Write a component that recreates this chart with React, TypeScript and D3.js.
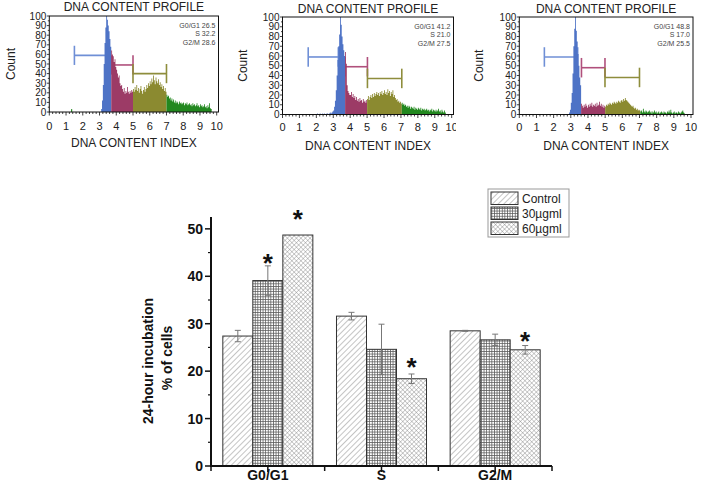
import React from 'react';
import * as d3 from 'd3';

// ---------------- Bar chart data ----------------
const phases = ['G0/G1', 'S', 'G2/M'];
const treatments = ['Control', '30µgml', '60µgml'];
const controlPct = [27.4, 31.6, 28.5];
const controlErr = [1.2, 0.8, 0.1];
const dose30Pct = [39.1, 24.6, 26.6];
const dose30Err = [3.1, 5.3, 1.2];
const dose60Pct = [48.7, 18.4, 24.5];
const dose60Err = [0, 1.0, 0.9];
// significance markers: [treatment index, phase index, level (% of cells)]
const starMarks: [number, number, number][] = [
  [1, 0, 44.1],
  [2, 0, 53.4],
  [2, 1, 22.2],
  [2, 2, 27.6],
];
const barTicks = [0, 10, 20, 30, 40, 50];

// ---------------- Histogram data (bin width 0.05) ----------------
const BIN = 0.05;
const histXTicks = [0, 1, 2, 3, 4, 5, 6, 7, 8, 9, 10];
const histYTicks = [0, 10, 20, 30, 40, 50, 60, 70, 80, 90, 100];

const profile1Start = 3.1;
const profile1Counts = [
  3, 12, 28, 50, 72, 88, 100, 96, 90, 84, 76, 68,
  64, 60, 58, 52, 55, 47, 44, 40, 36, 38, 30, 27, 28, 24, 21, 25, 19, 22, 20, 26, 21, 19, 22, 20, 23, 21,
  24, 21, 26, 23, 28, 22, 25, 20, 24, 27, 22, 19, 23, 26, 21, 24, 28, 25, 30, 27, 32, 29, 35, 31, 38, 33, 29, 36, 32, 30, 34, 28, 31, 26, 29, 24, 27, 22, 25, 21,
  18, 16, 17, 14, 15, 12, 14, 11, 13, 10, 12, 9, 11, 10, 8, 11, 9, 10, 8, 9, 10, 7, 9, 8, 10, 7, 8, 9, 7, 8, 6, 9, 7, 8, 6, 7, 9, 6, 7, 5, 8, 6, 7, 5, 6, 8, 5, 6, 4, 7, 5, 9, 4, 3,
];
const profile1Low: [number, number][] = [[1.3, 3]];
const profile1Bounds = [3.7, 5.0, 7.0];
const profile1Stats = ['G0/G1 26.5', 'S 32.2', 'G2/M 28.6'];
// gates: [from, to, level]
const profile1Gates: [number, number, number][] = [[1.5, 3.4, 59], [3.7, 5.0, 49], [5.0, 7.0, 40]];

const profile2Start = 2.0;
const profile2Counts = [
  0, 1, 0, 0, 1, 0, 0, 1, 0, 1, 0, 0, 1, 1, 0, 1, 2, 1, 2, 3,
  4, 8, 14, 25, 40, 56, 70, 82, 100, 92, 80, 72, 66, 60,
  64, 52, 30, 24, 22, 20, 20, 23, 18, 21, 17, 19, 15, 18, 14, 16, 13, 17, 14, 15, 12, 16, 13, 14, 12, 15,
  16, 19, 15, 18, 20, 17, 21, 18, 22, 19, 21, 23, 20, 22, 19, 23, 21, 24, 20, 22, 25, 21, 23, 20, 26, 22, 24, 19, 23, 21, 25, 18, 20, 17, 15, 16, 13, 14, 12, 13, 11,
  12, 10, 11, 9, 10, 8, 9, 7, 9, 8, 6, 8, 7, 6, 8, 5, 7, 6, 5, 7, 6, 5, 7, 4, 6, 5, 6, 4, 5, 6, 4, 5, 3, 5, 4, 6, 3, 5, 4, 3, 5, 3, 4, 6, 3, 4, 2, 5, 3, 2, 4, 2,
];
const profile2Low: [number, number][] = [];
const profile2Bounds = [3.7, 5.0, 7.05];
const profile2Stats = ['G0/G1 41.2', 'S 21.0', 'G2/M 27.5'];
const profile2Gates: [number, number, number][] = [[1.52, 3.3, 59], [3.69, 5.02, 49], [5.02, 7.05, 37]];

const profile3Start = 2.9;
const profile3Counts = [
  2, 5, 12, 22, 42, 70, 88, 100, 86, 75, 62, 50, 38, 30,
  11, 9, 7, 10, 8, 11, 9, 7, 10, 8, 11, 9, 12, 8, 10, 9, 11, 8, 12, 9, 10, 13, 9, 11, 8, 10, 7, 9,
  8, 10, 9, 11, 10, 12, 11, 10, 12, 11, 13, 12, 11, 13, 12, 14, 13, 12, 14, 15, 13, 16, 14, 17, 15, 14, 13, 12, 11, 10, 9, 8, 9, 7, 6, 7, 5, 6, 4, 5, 4,
  3, 4, 2, 6, 3, 2, 4, 3, 2, 3, 4, 2, 3, 1, 3, 2, 4, 2, 3, 1, 2, 3, 1, 2, 3, 2, 1, 3, 2, 2, 1, 3, 2, 4, 2, 5, 2, 1, 2, 3, 1, 2, 2, 1, 3, 2, 1, 2, 3, 4, 2, 1,
];
const profile3Low: [number, number][] = [];
const profile3Bounds = [3.6, 5.0, 7.05];
const profile3Stats = ['G0/G1 48.8', 'S 17.0', 'G2/M 25.5'];
const profile3Gates: [number, number, number][] = [[1.46, 3.4, 59], [3.62, 4.99, 48], [4.99, 7.0, 38]];

// ---------------- Styles ----------------
const FILL_COLORS = ['#4e73c6', '#9c3b66', '#8b8a30', '#22881f'];
const GATE_COLORS = ['#6f8fd6', '#b0507c', '#8e8d3c'];
const FONT = 'Arial, "Liberation Sans", sans-serif';

type PanelLayout = {
  left: number; right: number; x10: number; bottom: number; top: number;
  titleY: number; tickY: number; labelY: number; countX: number; clip?: number;
};

const panelLayouts: PanelLayout[] = [
  { left: 49.3, x10: 216.7, right: 218.5, bottom: 112, top: 16, titleY: 11, tickY: 129.5, labelY: 146.5, countX: 14.5 },
  { left: 282.5, x10: 451.7, right: 453.5, bottom: 114.5, top: 17, titleY: 12.5, tickY: 131, labelY: 150, countX: 247, clip: 456 },
  { left: 519.3, x10: 691, right: 693, bottom: 114.5, top: 17, titleY: 13, tickY: 131, labelY: 150, countX: 483 },
];

type Seg = { idx: number; pts: { x: number; c: number }[] };

function segmentsOf(start: number, counts: number[], bounds: number[]): Seg[] {
  const segs: Seg[] = [];
  counts.forEach((c, i) => {
    const x = start + i * BIN;
    const k = bounds.findIndex((b) => x < b - 1e-6);
    const idx = k === -1 ? bounds.length : k;
    let seg = segs[segs.length - 1];
    if (!seg || seg.idx !== idx) {
      seg = { idx, pts: [] };
      segs.push(seg);
    }
    seg.pts.push({ x, c });
  });
  segs.forEach((s) => {
    const last = s.pts[s.pts.length - 1];
    s.pts.push({ x: last.x + BIN, c: last.c });
  });
  return segs;
}

function HistPanel(props: {
  id: number; L: PanelLayout; start: number; counts: number[]; low: [number, number][];
  bounds: number[]; stats: string[]; gates: [number, number, number][];
}) {
  const { id, L, start, counts, low, bounds, stats, gates } = props;
  const x = d3.scaleLinear().domain([0, 10]).range([L.left, L.x10]);
  const y = d3.scaleLinear().domain([0, 100]).range([L.bottom, L.top]);
  const segs = segmentsOf(start, counts, bounds);
  const area = d3
    .area<{ x: number; c: number }>()
    .x((d) => x(d.x))
    .y0(y(0))
    .y1((d) => y(d.c))
    .curve(d3.curveStepAfter);
  const minorX = d3.range(0, 51).map((i) => i * 0.2);
  const minorY = d3.range(0, 21).map((i) => i * 5);
  const clipId = `clip${id}`;
  return (
    <g clipPath={L.clip ? `url(#${clipId})` : undefined}>
      {L.clip && (
        <defs>
          <clipPath id={clipId}>
            <rect x={0} y={0} width={L.clip} height={170} />
          </clipPath>
        </defs>
      )}
      <text x={(L.left + L.right) / 2} y={L.titleY} textAnchor="middle" fontFamily={FONT} fontSize={12} fill="#222">
        DNA CONTENT PROFILE
      </text>
      <text
        transform={`translate(${L.countX},${(L.top + L.bottom) / 2}) rotate(-90)`}
        textAnchor="middle"
        fontFamily={FONT}
        fontSize={12}
        fill="#222"
      >
        Count
      </text>
      {/* gates (behind histogram) */}
      {gates.map((g, i) => (
        <g key={i} stroke={GATE_COLORS[i]} strokeWidth={1.6} fill="none">
          <line x1={x(g[0])} x2={x(g[1])} y1={y(g[2])} y2={y(g[2])} />
          <line x1={x(g[0])} x2={x(g[0])} y1={y(g[2] + 10)} y2={y(g[2] - 10)} />
          <line x1={x(g[1])} x2={x(g[1])} y1={y(g[2] + 10)} y2={y(g[2] - 10)} />
        </g>
      ))}
      {segs.map((s, i) => (
        <path key={i} d={area(s.pts) || ''} fill={FILL_COLORS[s.idx]} stroke="none" />
      ))}
      {low.map((b, i) => (
        <rect key={i} x={x(b[0])} width={x(BIN) - x(0) + 0.3} y={y(b[1])} height={y(0) - y(b[1])} fill={FILL_COLORS[3]} />
      ))}
      {/* frame */}
      <rect x={L.left} y={L.top} width={L.right - L.left} height={L.bottom - L.top} fill="none" stroke="#111" strokeWidth={1} />
      {/* x ticks */}
      {minorX.map((v, i) => (
        <line key={i} x1={x(v)} x2={x(v)} y1={L.bottom} y2={L.bottom + (Math.abs(v - Math.round(v)) < 1e-6 ? 3.5 : 2)} stroke="#111" strokeWidth={0.8} />
      ))}
      {histXTicks.map((v) => (
        <text key={v} x={x(v)} y={L.tickY} textAnchor="middle" fontFamily={FONT} fontSize={11} fill="#222">
          {v}
        </text>
      ))}
      {/* y ticks */}
      {minorY.map((v, i) => (
        <line key={i} x1={L.left} x2={L.left - (v % 10 === 0 ? 2.5 : 1.5)} y1={y(v)} y2={y(v)} stroke="#111" strokeWidth={0.8} />
      ))}
      {histYTicks.map((v) => (
        <text key={v} x={L.left - 3} y={y(v) + 3.6} textAnchor="end" fontFamily={FONT} fontSize={10} fill="#222">
          {v}
        </text>
      ))}
      <text x={(L.left + L.right) / 2} y={L.labelY} textAnchor="middle" fontFamily={FONT} fontSize={12} fill="#222">
        DNA CONTENT INDEX
      </text>
      {stats.map((s, i) => (
        <text key={i} x={L.right - 3} y={L.top + 12 + i * 8.3} textAnchor="end" fontFamily={FONT} fontSize={7} fill="#444">
          {s}
        </text>
      ))}
    </g>
  );
}

function BarChart() {
  const yBar = d3.scaleLinear().domain([0, 52.5]).range([466, 217]);
  const xBand = d3.scaleBand<string>().domain(phases).range([211, 552]).paddingInner(0).paddingOuter(0);
  const xSub = d3.scaleBand<string>().domain(treatments).range([0, xBand.bandwidth()]).paddingInner(0).paddingOuter(0.394);
  const values = [controlPct, dose30Pct, dose60Pct];
  const errs = [controlErr, dose30Err, dose60Err];
  const fills = ['url(#patControl)', 'url(#pat30)', 'url(#pat60)'];
  const minor = d3.range(5, 51, 10);
  const bw = xSub.bandwidth();
  return (
    <g>
      {phases.map((p, pi) =>
        treatments.map((t, ti) => {
          const v = values[ti][pi];
          const x0 = (xBand(p) || 0) + (xSub(t) || 0);
          return (
            <rect key={`${p}-${t}`} x={x0} y={yBar(v)} width={bw} height={yBar(0) - yBar(v)} fill={fills[ti]} stroke="#333" strokeWidth={1} />
          );
        })
      )}
      {phases.map((p, pi) =>
        treatments.map((t, ti) => {
          const v = values[ti][pi];
          const e = errs[ti][pi];
          if (e <= 0) return null;
          const cx = (xBand(p) || 0) + (xSub(t) || 0) + bw / 2;
          return (
            <g key={`e${p}-${t}`} stroke="#777" strokeWidth={1}>
              <line x1={cx} x2={cx} y1={yBar(v + e)} y2={yBar(v - e)} />
              <line x1={cx - 3} x2={cx + 3} y1={yBar(v + e)} y2={yBar(v + e)} />
              <line x1={cx - 3} x2={cx + 3} y1={yBar(v - e)} y2={yBar(v - e)} />
            </g>
          );
        })
      )}
      {starMarks.map(([ti, pi, lvl], i) => {
        const cx = (xBand(phases[pi]) || 0) + (xSub(treatments[ti]) || 0) + bw / 2;
        return (
          <text key={i} x={cx} y={yBar(lvl) + 14.8} textAnchor="middle" fontFamily={FONT} fontWeight="bold" fontSize={26} fill="#111">
            *
          </text>
        );
      })}
      {/* axes */}
      <line x1={211} x2={211} y1={yBar(0) + 1} y2={yBar(52.5)} stroke="#111" strokeWidth={2} />
      <line x1={210} x2={552} y1={yBar(0)} y2={yBar(0)} stroke="#111" strokeWidth={2} />
      {barTicks.map((v) => (
        <g key={v}>
          <line x1={211} x2={205} y1={yBar(v)} y2={yBar(v)} stroke="#111" strokeWidth={1.5} />
          <text x={203} y={yBar(v) + 5} textAnchor="end" fontFamily={FONT} fontWeight="bold" fontSize={14} fill="#111">
            {v}
          </text>
        </g>
      ))}
      {minor.map((v) => (
        <line key={v} x1={211} x2={208} y1={yBar(v)} y2={yBar(v)} stroke="#111" strokeWidth={1.2} />
      ))}
      {phases.map((p) => {
        const c = (xBand(p) || 0) + xBand.bandwidth() / 2;
        return (
          <g key={p}>
            <line x1={c} x2={c} y1={yBar(0)} y2={yBar(0) + 6} stroke="#111" strokeWidth={1.5} />
            <text x={c} y={480} textAnchor="middle" fontFamily={FONT} fontWeight="bold" fontSize={14} fill="#111">
              {p}
            </text>
          </g>
        );
      })}
      {[...phases.map((p) => xBand(p) || 0), 552].map((b, i) => (
        <line key={`b${i}`} x1={b} x2={b} y1={yBar(0)} y2={yBar(0) + 5} stroke="#111" strokeWidth={1.5} />
      ))}
      <text transform="translate(153,361) rotate(-90)" textAnchor="middle" fontFamily={FONT} fontWeight="bold" fontSize={14} fill="#111">
        24-hour incubation
      </text>
      <text transform="translate(172,358) rotate(-90)" textAnchor="middle" fontFamily={FONT} fontWeight="bold" fontSize={14} fill="#111">
        % of cells
      </text>
      {/* legend */}
      <rect x={488} y={189} width={81} height={48} fill="#fff" stroke="#999" strokeWidth={1} />
      {treatments.map((t, i) => (
        <g key={t}>
          <rect x={491} y={192 + i * 15} width={27} height={12.5} fill={fills[i]} stroke="#333" strokeWidth={1} />
          <text x={522} y={202.5 + i * 15} fontFamily={FONT} fontSize={12} fill="#222">
            {t}
          </text>
        </g>
      ))}
    </g>
  );
}

export default function App() {
  const panels = [
    { start: profile1Start, counts: profile1Counts, low: profile1Low, bounds: profile1Bounds, stats: profile1Stats, gates: profile1Gates },
    { start: profile2Start, counts: profile2Counts, low: profile2Low, bounds: profile2Bounds, stats: profile2Stats, gates: profile2Gates },
    { start: profile3Start, counts: profile3Counts, low: profile3Low, bounds: profile3Bounds, stats: profile3Stats, gates: profile3Gates },
  ];
  return (
    <svg width={703} height={492} style={{ position: 'absolute', left: 0, top: 0, display: 'block', background: '#fff' }}>
      <defs>
        <pattern id="patControl" width={4} height={4} patternUnits="userSpaceOnUse" patternTransform="rotate(45)">
          <rect width={4} height={4} fill="#fff" />
          <line x1={0} y1={0} x2={0} y2={4} stroke="#8a8a8a" strokeWidth={1} />
        </pattern>
        <pattern id="pat30" width={2.6} height={2.6} patternUnits="userSpaceOnUse">
          <rect width={2.6} height={2.6} fill="#fff" />
          <line x1={0} y1={0.4} x2={2.6} y2={0.4} stroke="#5a5a5a" strokeWidth={0.8} />
          <line x1={0.4} y1={0} x2={0.4} y2={2.6} stroke="#5a5a5a" strokeWidth={0.8} />
        </pattern>
        <pattern id="pat60" width={3.2} height={3.2} patternUnits="userSpaceOnUse" patternTransform="rotate(45)">
          <rect width={3.2} height={3.2} fill="#fff" />
          <line x1={0} y1={0} x2={3.2} y2={0} stroke="#7a7a7a" strokeWidth={0.7} />
          <line x1={0} y1={0} x2={0} y2={3.2} stroke="#7a7a7a" strokeWidth={0.7} />
        </pattern>
      </defs>
      <rect width={703} height={492} fill="#fff" />
      {panels.map((p, i) => (
        <HistPanel key={i} id={i} L={panelLayouts[i]} {...p} />
      ))}
      <BarChart />
    </svg>
  );
}
